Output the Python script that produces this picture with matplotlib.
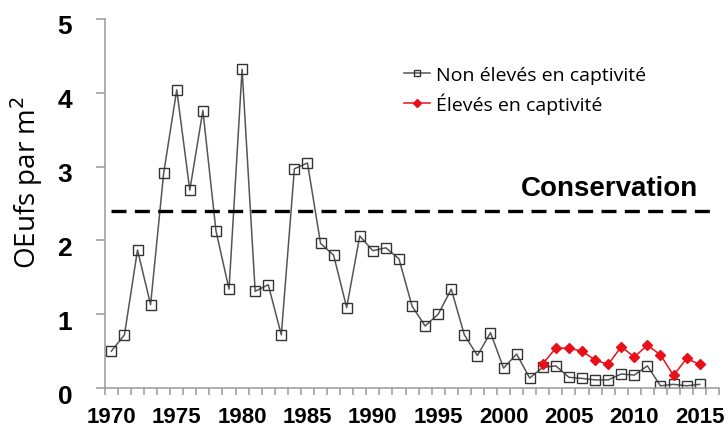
import matplotlib.pyplot as plt
from matplotlib.transforms import ScaledTranslation

years = list(range(1970, 2016))
wild = [0.50, 0.72, 1.87, 1.13, 2.91, 4.04, 2.68, 3.76, 2.13, 1.34,
        4.32, 1.31, 1.40, 0.72, 2.97, 3.05, 1.96, 1.80, 1.09, 2.06,
        1.86, 1.90, 1.75, 1.11, 0.84, 1.00, 1.34, 0.72, 0.44, 0.75,
        0.27, 0.46, 0.135, 0.28, 0.30, 0.145, 0.13, 0.11, 0.11, 0.19,
        0.175, 0.30, 0.03, 0.05, 0.03, 0.05]
captive_years = list(range(2003, 2016))
captive = [0.33, 0.54, 0.54, 0.50, 0.38, 0.32, 0.56, 0.42, 0.58, 0.45,
           0.17, 0.40, 0.32]
conservation = 2.4
x_labels = list(range(1970, 2016, 5))

fig = plt.figure(figsize=(7.28, 4.31), dpi=100)
ax = fig.add_axes([0.144, 0.0974, 0.844, 0.8562])

ax.plot(years, wild, color="#555555", lw=1.1, marker="s", ms=6.5,
        mfc="none", mec="#333333", mew=1.0, label="Non élevés en captivité")
ax.plot(captive_years, captive, color="#e8101a", lw=1.1, marker="D", ms=5.5,
        mfc="#e8101a", mec="#e8101a", label="Élevés en captivité")
ax.axhline(conservation, xmin=0.01, xmax=0.985, color="black", lw=2.4,
           ls=(0, (4.5, 2.5)))
ax.text(2014.9, conservation + 0.13, "Conservation", ha="right", va="bottom",
        fontsize=20, fontweight="bold", family="Liberation Sans")

ax.set_xlim(1969.5, 2016.5)
ax.set_ylim(0, 5)
ax.set_xticks(x_labels)
ax.set_xticks([y + 0.5 for y in range(1969, 2017)], minor=True)
ax.set_yticks(range(6))
ax.tick_params(axis="x", which="major", length=0, pad=13, labelsize=16)
ax.tick_params(axis="x", which="minor", length=5, width=1.1, color="#999999")
ax.tick_params(axis="y", length=6.5, width=1.1, color="#999999", pad=17,
               labelsize=19)
for lab in ax.get_xticklabels() + ax.get_yticklabels():
    lab.set_family("Liberation Sans")
    lab.set_fontweight("bold")
for lab in ax.get_yticklabels():
    lab.set_transform(lab.get_transform() + ScaledTranslation(0, -0.05, fig.dpi_scale_trans))

for side in ["top", "right"]:
    ax.spines[side].set_visible(False)
for side in ["left", "bottom"]:
    ax.spines[side].set_color("#999999")
    ax.spines[side].set_linewidth(1.1)

ax.set_ylabel("OEufs par m$^2$", fontsize=20, family="Open Sans")
ax.yaxis.set_label_coords(-0.097, 0.56)

ax.legend(loc="upper left", bbox_to_anchor=(0.459, 0.92), frameon=False,
          prop={"family": "Open Sans", "size": 14}, handlelength=1.3,
          markerscale=0.7, labelspacing=0.45, handletextpad=0.35)

fig.savefig("out.png", dpi=100)
